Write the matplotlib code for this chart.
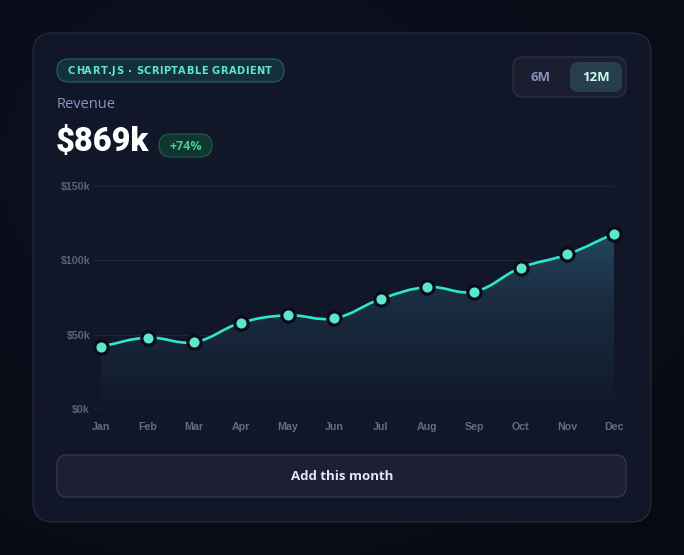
import numpy as np
import matplotlib
matplotlib.use("Agg")
import matplotlib.pyplot as plt
from matplotlib.patches import FancyBboxPatch, PathPatch
from matplotlib.path import Path
from matplotlib.colors import LinearSegmentedColormap
from matplotlib.font_manager import FontProperties

# ---- data ----
months = ["Jan", "Feb", "Mar", "Apr", "May", "Jun", "Jul", "Aug", "Sep", "Oct", "Nov", "Dec"]
revenue_k = [42, 48, 45, 58, 63, 61, 74, 82, 79, 95, 104, 118]
y_ticks = [0, 50, 100, 150]
y_tick_labels = ["$0k", "$50k", "$100k", "$150k"]
badge_text = "CHART.JS · SCRIPTABLE GRADIENT"
title_text = "Revenue"
total_text = "$869k"
change_text = "+74%"
range_options = ["6M", "12M"]
button_text = "Add this month"

W, H = 684, 555
fig = plt.figure(figsize=(W / 100, H / 100), dpi=100)
fig.patch.set_facecolor("#0a0d18")

# background axes in pixel coordinates
bg = fig.add_axes([0, 0, 1, 1])
bg.set_xlim(0, W)
bg.set_ylim(H, 0)
bg.axis("off")

# subtle vignette
yy, xx = np.mgrid[0:H, 0:W]
r = np.sqrt(((xx - W * 0.35) / W) ** 2 + ((yy - H * 0.3) / H) ** 2)
vig = LinearSegmentedColormap.from_list("v", ["#0d1120", "#080a13"])
bg.imshow(r, cmap=vig, extent=[0, W, H, 0], aspect="auto", zorder=0, vmin=0, vmax=0.9)


def rbox(x0, y0, x1, y1, rad, fc, ec, lw=1.0, z=1):
    p = FancyBboxPatch((x0, y0), x1 - x0, y1 - y0,
                       boxstyle=f"round,pad=0,rounding_size={rad}",
                       fc=fc, ec=ec, lw=lw, zorder=z)
    bg.add_patch(p)
    return p


# card
rbox(33, 33, 651, 522, 20, "#111628", "#242a3d", lw=0.9, z=1)

# badge
rbox(57, 59, 284, 82, 11.5, "#13303b", "#23605e", lw=0.9, z=2)
fig.canvas.draw()
renderer = fig.canvas.get_renderer()
bprop = FontProperties(family=["DejaVu Sans"], weight="bold", size=7.1)
widths = [renderer.get_text_width_height_descent(c, bprop, ismath=False)[0] for c in badge_text]
total_w = 204.0
spacing = (total_w - sum(widths)) / (len(badge_text) - 1)
cx = 68.0
for c, w in zip(badge_text, widths):
    bg.text(cx, 74.5, c, fontproperties=bprop, color="#5ee6d0", ha="left", va="baseline", zorder=3)
    cx += w + spacing

# title and total
bg.text(57, 104, title_text, fontsize=10.5, color="#8a95bf", family=["Open Sans", "DejaVu Sans"],
        ha="left", va="center", zorder=3)
bg.text(56, 151, total_text, fontsize=23.5, color="#ffffff", family=["Roboto", "DejaVu Sans"],
        weight="black", ha="left", va="baseline", zorder=3)
rbox(159, 134, 212, 157, 11.5, "#113530", "#1f5a48", lw=0.9, z=2)
bg.text(185.5, 146, change_text, fontsize=9, color="#3fd08f", family=["Open Sans", "DejaVu Sans"],
        weight="bold", ha="center", va="center", zorder=3)

# range toggle
rbox(513, 57, 626, 97, 10, "#1b1e2f", "#2d3246", lw=0.9, z=2)
rbox(570, 62, 622, 92, 8, "#263f4a", "none", lw=0, z=3)
bg.text(541, 77.5, range_options[0], fontsize=9.5, color="#8891bb", family=["Open Sans", "DejaVu Sans"],
        weight="bold", ha="center", va="center", zorder=4)
bg.text(596, 77.5, range_options[1], fontsize=9.5, color="#cdf6ef", family=["Open Sans", "DejaVu Sans"],
        weight="bold", ha="center", va="center", zorder=4)

# button
rbox(57, 455, 626, 497, 10, "#1d2032", "#363b51", lw=0.9, z=2)
bg.text(342, 477, button_text, fontsize=9.5, color="#e2e8f6", family=["Open Sans", "DejaVu Sans"],
        weight="bold", ha="center", va="center", zorder=3)

# ---- chart axes ----
L, R, T, B = 101, 614, 186, 409
ax = fig.add_axes([L / W, (H - B) / H, (R - L) / W, (B - T) / H])
ax.set_facecolor("none")
n = len(revenue_k)
xs = np.arange(n, dtype=float)
ys = np.array(revenue_k, dtype=float)
ax.set_xlim(0, n - 1)
ax.set_ylim(0, 150)

grid_c = "#20263a"
ax.set_yticks(y_ticks)
ax.set_yticklabels(y_tick_labels)
ax.set_xticks(xs)
ax.set_xticklabels(months)
ax.yaxis.grid(True, color=grid_c, lw=0.8)
ax.xaxis.grid(False)
ax.tick_params(axis="y", length=5.8, width=0.8, color=grid_c, pad=2.0, labelsize=7.7, labelcolor="#5a6180")
ax.tick_params(axis="x", length=0, pad=9.5, labelsize=7.7, labelcolor="#636a8a")
for lab in ax.get_xticklabels() + ax.get_yticklabels():
    lab.set_family(["Liberation Sans", "DejaVu Sans"])
    lab.set_weight("bold")
for s in ax.spines.values():
    s.set_visible(False)
ax.set_axisbelow(True)

# Chart.js-like spline (tension 0.4) in pixel space
sx = (R - L) / (n - 1)
sy = (B - T) / 150.0
px = xs * sx
py = ys * sy
t = 0.4
cps_prev = []
cps_next = []
for i in range(n):
    pi = np.array([px[i], py[i]])
    pp = np.array([px[i - 1], py[i - 1]]) if i > 0 else pi
    pn = np.array([px[i + 1], py[i + 1]]) if i < n - 1 else pi
    d01 = np.hypot(*(pi - pp))
    d12 = np.hypot(*(pn - pi))
    tot = d01 + d12
    s01 = d01 / tot if tot else 0
    s12 = d12 / tot if tot else 0
    fa, fb = t * s01, t * s12
    cps_prev.append(pi - fa * (pn - pp))
    cps_next.append(pi + fb * (pn - pp))

verts = [(px[0], py[0])]
codes = [Path.MOVETO]
for i in range(n - 1):
    c1 = cps_next[i]
    c2 = cps_prev[i + 1]
    verts += [tuple(c1), tuple(c2), (px[i + 1], py[i + 1])]
    codes += [Path.CURVE4] * 3
verts_d = [(vx / sx, vy / sy) for vx, vy in verts]
line_path = Path(verts_d, codes)

# fill path (closed to 0)
fverts = verts_d + [(xs[-1], 0), (xs[0], 0), verts_d[0]]
fcodes = codes + [Path.LINETO, Path.LINETO, Path.CLOSEPOLY]
fill_path = Path(fverts, fcodes)

grad_cmap = LinearSegmentedColormap.from_list("g", ["#111828", "#1a2d42", "#2c5a72"])
grad = np.linspace(0, 1, 256).reshape(-1, 1)
im = ax.imshow(grad, cmap=grad_cmap, extent=[0, n - 1, 0, 150], origin="lower",
               aspect="auto", zorder=1, interpolation="bicubic")
clip_patch = PathPatch(fill_path, transform=ax.transData, fc="none", ec="none")
ax.add_patch(clip_patch)
im.set_clip_path(clip_patch)

line_patch = PathPatch(line_path, fc="none", ec="#2ee6cb", lw=1.9, zorder=3,
                       clip_on=False, capstyle="round", joinstyle="round")
ax.add_patch(line_patch)
ax.plot(xs, ys, ls="none", marker="o", ms=9.6, mfc="#5ee6cc", mec="#0a0d17", mew=2.3,
        zorder=4, clip_on=False)

fig.savefig("out.png", dpi=100, facecolor=fig.get_facecolor())
